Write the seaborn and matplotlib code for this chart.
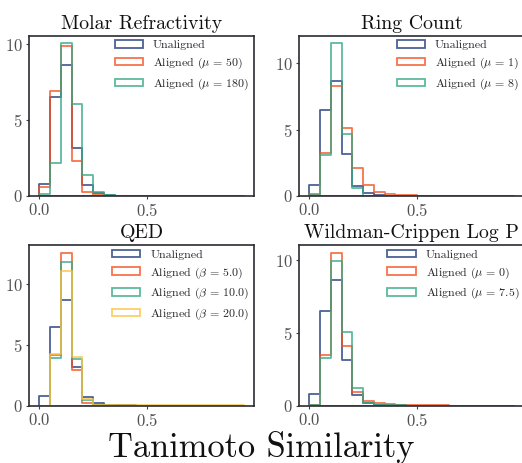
import numpy as np
import pandas as pd
import matplotlib
matplotlib.use("Agg")
import matplotlib.pyplot as plt
from matplotlib.colors import to_rgba
import seaborn as sns

# ---------------- data (density per bin, bin width 0.05 from 0.0 to 0.95) ----------------
bin_edges = [round(0.05 * i, 2) for i in range(20)]

unaligned = [0.80, 6.50, 8.66, 3.16, 0.72, 0.20, 0.06, 0.02, 0.01, 0.0,
             0.0, 0.0, 0.0, 0.0, 0.0, 0.0, 0.0, 0.0, 0.0]

mr_mu50 = [0.61, 6.95, 9.87, 2.32, 0.26, 0.05, 0.01, 0.0, 0.0, 0.0,
           0.0, 0.0, 0.0, 0.0, 0.0, 0.0, 0.0, 0.0, 0.0]
mr_mu180 = [0.10, 2.20, 10.07, 6.05, 1.40, 0.26, 0.08, 0.03, 0.01, 0.0,
            0.0, 0.0, 0.0, 0.0, 0.0, 0.0, 0.0, 0.0, 0.0]

ring_mu1 = [0.16, 3.20, 8.25, 5.10, 2.10, 0.80, 0.33, 0.18, 0.10, 0.05,
            0.03, 0.02, 0.01, 0.0, 0.0, 0.0, 0.0, 0.0, 0.0]
ring_mu8 = [0.05, 3.10, 11.50, 4.67, 0.62, 0.03, 0.01, 0.0, 0.0, 0.0,
            0.0, 0.0, 0.0, 0.0, 0.0, 0.0, 0.0, 0.0, 0.0]

qed_b5 = [0.0, 4.20, 12.60, 2.95, 0.22, 0.02, 0.01, 0.0, 0.0, 0.0,
          0.0, 0.0, 0.0, 0.0, 0.0, 0.0, 0.0, 0.0, 0.0]
qed_b10 = [0.0, 3.90, 11.80, 3.80, 0.44, 0.03, 0.01, 0.0, 0.0, 0.0,
           0.0, 0.0, 0.0, 0.0, 0.0, 0.0, 0.0, 0.0, 0.0]
qed_b20 = [0.0, 4.27, 11.05, 3.97, 0.55, 0.06, 0.04, 0.04, 0.04, 0.04,
           0.04, 0.04, 0.04, 0.04, 0.04, 0.04, 0.04, 0.04, 0.04]

logp_mu0 = [0.05, 3.45, 10.53, 4.10, 0.92, 0.28, 0.18, 0.12, 0.06, 0.03,
            0.02, 0.01, 0.01, 0.0, 0.0, 0.0, 0.0, 0.0, 0.0]
logp_mu75 = [0.05, 3.30, 9.95, 5.06, 1.22, 0.18, 0.06, 0.02, 0.01, 0.0,
             0.0, 0.0, 0.0, 0.0, 0.0, 0.0, 0.0, 0.0, 0.0]

titles = ["Molar Refractivity", "Ring Count", "QED", "Wildman-Crippen Log P"]

panel_series = [
    [("Unaligned", unaligned), (r"Aligned ($\mu\,=\,50$)", mr_mu50), (r"Aligned ($\mu\,=\,180$)", mr_mu180)],
    [("Unaligned", unaligned), (r"Aligned ($\mu\,=\,1$)", ring_mu1), (r"Aligned ($\mu\,=\,8$)", ring_mu8)],
    [("Unaligned", unaligned), (r"Aligned ($\beta\,=\,5.0$)", qed_b5), (r"Aligned ($\beta\,=\,10.0$)", qed_b10),
     (r"Aligned ($\beta\,=\,20.0$)", qed_b20)],
    [("Unaligned", unaligned), (r"Aligned ($\mu\,=\,0$)", logp_mu0), (r"Aligned ($\mu\,=\,7.5$)", logp_mu75)],
]

xlabel = "Tanimoto Similarity"

# ---------------- style ----------------
sns.set_theme(style="ticks")
plt.rcParams["font.family"] = ["cmr10", "DejaVu Serif"]
plt.rcParams["mathtext.fontset"] = "cm"
plt.rcParams["axes.formatter.use_mathtext"] = True
plt.rcParams["axes.unicode_minus"] = False

colors = ["#1f3b7d", "#f4511e", "#36a883", "#fbc342"]
line_alpha = 0.8

fig = plt.figure(figsize=(5.22, 4.63), dpi=100)
W, H = 522.0, 463.0
rects = [
    (29, 35.5, 225, 160.5),
    (299, 35.5, 225, 160.5),
    (29, 245, 225, 160.5),
    (299, 245, 225, 160.5),
]

centers = [(bin_edges[i] + bin_edges[i + 1]) / 2 for i in range(len(bin_edges) - 1)]

for k, (x0, y0, w, h) in enumerate(rects):
    ax = fig.add_axes([x0 / W, 1 - (y0 + h) / H, w / W, h / H])
    for j, (lab, vals) in enumerate(panel_series[k]):
        df = pd.DataFrame({"x": centers, "w": vals})
        sns.histplot(data=df, x="x", weights="w", bins=bin_edges, element="step",
                     fill=True, stat="count", ax=ax, label=lab, color=colors[j],
                     facecolor="none", edgecolor=to_rgba(colors[j], line_alpha),
                     linewidth=1.3)
    ax.set_xlabel("")
    ax.set_ylabel("")
    ax.set_xticks([0.0, 0.5])
    ax.set_yticks([0, 5, 10])
    ax.tick_params(axis="both", labelsize=12, length=2.5, width=0.8,
                   color="#444444", labelcolor="#505050", pad=2)
    for s in ax.spines.values():
        s.set_visible(True)
        s.set_color("#2b2b33")
        s.set_linewidth(1.2)
    ax.set_title(titles[k], fontsize=14.3, pad=5, color="#111111")
    ax.legend(loc="upper right", frameon=False, fontsize=8.6,
              handlelength=2.35, handleheight=0.6, handletextpad=0.85,
              labelspacing=0.45, borderaxespad=0.3, borderpad=0.1)

fig.text(0.5, 0.012, xlabel, ha="center", va="baseline", fontsize=24.8, color="#111111")

fig.savefig("out.png", dpi=100)
